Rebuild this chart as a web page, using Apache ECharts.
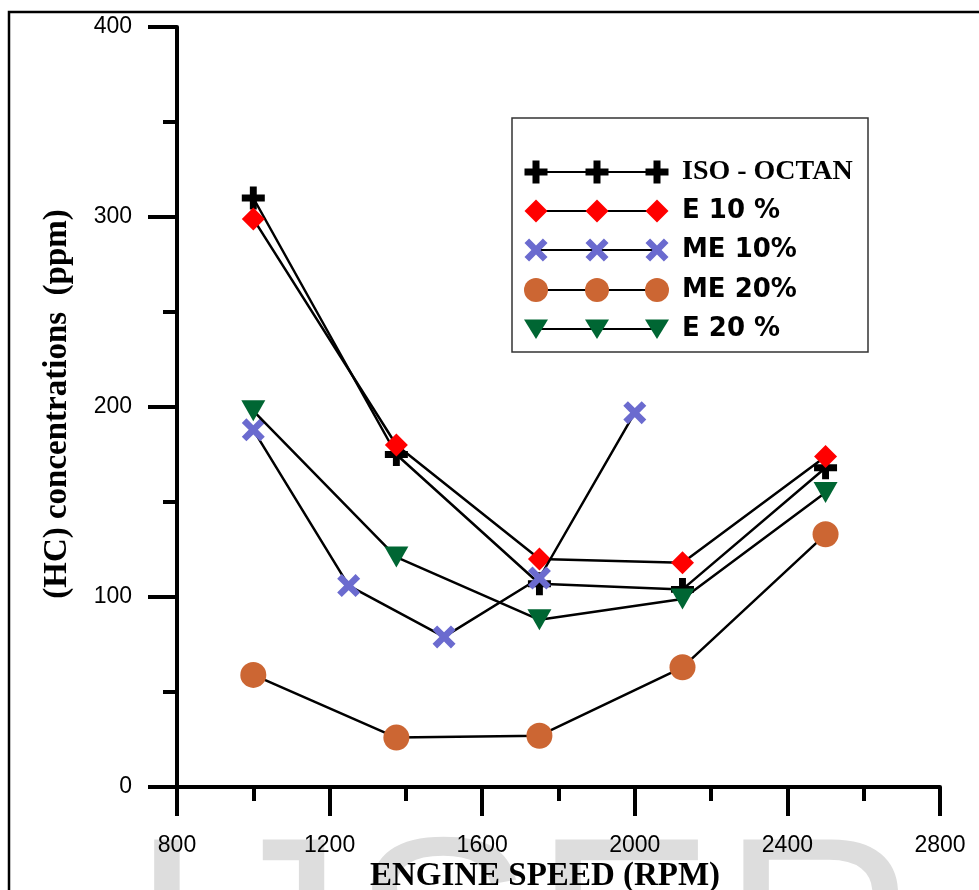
<!DOCTYPE html>
<html>
<head>
<meta charset="utf-8">
<script src="https://cdn.jsdelivr.net/npm/echarts@6/dist/echarts.min.js"></script>
<style>
html,body{margin:0;padding:0;background:#fff;}
#chart{width:979px;height:890px;}
</style>
</head>
<body>
<div id="chart"></div>
<script>
// ---- data ----
const seriesNames = ['ISO - OCTAN', 'E 10 %', 'ME 10%', 'ME 20%', 'E 20 %'];
const speeds = [1000, 1375, 1750, 2125, 2500];
const speedsME10 = [1000, 1250, 1500, 1750, 2000];
const isoOctan = [310, 175, 107, 104, 168];
const e10 = [299, 180, 120, 118, 174];
const me10 = [188, 106, 79, 110, 197];
const me20 = [59, 26, 27, 63, 133];
const e20 = [198, 121, 88, 99, 155];
const xTicks = [800, 1200, 1600, 2000, 2400, 2800];
const yTicks = [0, 100, 200, 300, 400];
const xTitle = 'ENGINE SPEED (RPM)';
const yTitle = '(HC) concentrations  (ppm)';
const watermark = ['I', 'J', 'S', 'E', 'R'];

// ---- styles ----
const colors = ['#000000', '#ff0000', '#6b6bcf', '#cc6633', '#006633'];
const PLUS = 'path://M3.5,0H6.5V3.5H10V6.5H6.5V10H3.5V6.5H0V3.5H3.5Z';
const CROSS = 'path://M0,2L2,0L5,3L8,0L10,2L7,5L10,8L8,10L5,7L2,10L0,8L3,5Z';
const symbols = [PLUS, 'diamond', CROSS, 'circle', 'triangle'];
const symSizes = [23, 23, 23, 26, [24, 21]];
const symRot = [0, 0, 0, 0, 180];

function pairs(xs, ys) { return xs.map((x, i) => [x, ys[i]]); }
const seriesData = [
  pairs(speeds, isoOctan),
  pairs(speeds, e10),
  pairs(speedsME10, me10),
  pairs(speeds, me20),
  pairs(speeds, e20)
];

const series = seriesNames.map((n, i) => ({
  name: n,
  type: 'line',
  data: seriesData[i],
  symbol: symbols[i],
  symbolSize: symSizes[i],
  symbolRotate: symRot[i],
  showAllSymbol: true,
  lineStyle: { color: '#000', width: 2.5 },
  itemStyle: { color: colors[i], opacity: 1 },
  emphasis: { disabled: true },
  z: 3 + i
}));

// ---- legend drawn as graphics ----
function plusPts(cx, cy, s, t) {
  const h = s / 2, a = t / 2;
  return [[cx-a,cy-h],[cx+a,cy-h],[cx+a,cy-a],[cx+h,cy-a],[cx+h,cy+a],[cx+a,cy+a],[cx+a,cy+h],[cx-a,cy+h],[cx-a,cy+a],[cx-h,cy+a],[cx-h,cy-a],[cx-a,cy-a]];
}
function crossPts(cx, cy, s, t) {
  const d = s / Math.SQRT2 - t / 2;
  const base = plusPts(0, 0, 2 * d, t);
  const c = Math.SQRT1_2;
  return base.map(p => [cx + (p[0] * c - p[1] * c), cy + (p[0] * c + p[1] * c)]);
}
function markerEl(i, cx, cy) {
  const col = colors[i];
  if (i === 0) return { type: 'polygon', shape: { points: plusPts(cx, cy, 23, 7) }, style: { fill: col }, z: 102 };
  if (i === 1) return { type: 'polygon', shape: { points: [[cx, cy-11.5],[cx+11.5, cy],[cx, cy+11.5],[cx-11.5, cy]] }, style: { fill: col }, z: 102 };
  if (i === 2) return { type: 'polygon', shape: { points: crossPts(cx, cy, 23, 6.5) }, style: { fill: col }, z: 102 };
  if (i === 3) return { type: 'circle', shape: { cx: cx, cy: cy, r: 12 }, style: { fill: col }, z: 102 };
  return { type: 'polygon', shape: { points: [[cx-12, cy-9.5],[cx+12, cy-9.5],[cx, cy+10]] }, style: { fill: col }, z: 102 };
}
const legendRows = [172, 211, 250, 290, 329];
const legendMarkX = [536, 597, 657];
const graphics = [];

// watermark
const wmX = [129, 208, 351, 533, 721];
watermark.forEach((ch, k) => {
  graphics.push({
    type: 'text', x: wmX[k], y: 952, z: -10, silent: true,
    style: { text: ch, font: '273px "Liberation Sans"', fill: '#dddddd',
             align: 'left', textAlign: 'left', verticalAlign: 'middle', textVerticalAlign: 'middle' }
  });
});

// outer frame
graphics.push({ type: 'rect', shape: { x: 9, y: 12, width: 1100, height: 1100 },
  style: { fill: 'none', stroke: '#000', lineWidth: 2.5 }, z: 1, silent: true });

// legend box
graphics.push({ type: 'rect', shape: { x: 512, y: 118, width: 356, height: 234 },
  style: { fill: '#fff', stroke: '#333', lineWidth: 1.5 }, z: 100, silent: true });
seriesNames.forEach((n, i) => {
  const cy = legendRows[i];
  graphics.push({ type: 'line', shape: { x1: legendMarkX[0], y1: cy, x2: legendMarkX[2], y2: cy },
    style: { stroke: '#000', lineWidth: 2 }, z: 101, silent: true });
  legendMarkX.forEach(mx => graphics.push(markerEl(i, mx, cy)));
  graphics.push({ type: 'text', x: 682, y: cy, z: 102, silent: true,
    style: { text: n,
      font: i === 0 ? 'bold 28px "Liberation Serif"' : 'bold 26px "DejaVu Sans"',
      fill: '#000', align: 'left', textAlign: 'left', verticalAlign: 'middle', textVerticalAlign: 'middle' } });
});

// axis titles
graphics.push({ type: 'text', x: 545, y: 876, z: 50, silent: true,
  style: { text: xTitle, font: 'bold 33px "Liberation Serif"', fill: '#000',
    align: 'center', textAlign: 'center', verticalAlign: 'middle', textVerticalAlign: 'middle' } });
graphics.push({ type: 'text', x: 57, y: 404, rotation: Math.PI / 2, z: 50, silent: true,
  style: { text: yTitle, font: 'bold 33px "Liberation Serif"', fill: '#000',
    align: 'center', textAlign: 'center', verticalAlign: 'middle', textVerticalAlign: 'middle' } });

const axisCommon = {
  axisLine: { show: true, onZero: false, lineStyle: { color: '#000', width: 4 } },
  axisTick: { show: true, inside: false, length: 29, lineStyle: { color: '#000', width: 4 } },
  minorTick: { show: true, splitNumber: 2, length: 14, lineStyle: { color: '#000', width: 4 } },
  splitLine: { show: false },
  minorSplitLine: { show: false }
};

const option = {
  animation: false,
  backgroundColor: '#fff',
  grid: { left: 177, right: 39, top: 27, bottom: 103, containLabel: false, outerBoundsMode: 'none' },
  xAxis: Object.assign({
    type: 'value', min: xTicks[0], max: xTicks[xTicks.length - 1], interval: 400,
    axisLabel: { margin: 47, color: '#000', fontSize: 23, fontFamily: '"Liberation Sans"',
      showMinLabel: true, showMaxLabel: true, formatter: v => String(v) }
  }, axisCommon),
  yAxis: Object.assign({
    type: 'value', min: yTicks[0], max: yTicks[yTicks.length - 1], interval: 100,
    axisLabel: { margin: 45, color: '#000', fontSize: 23, fontFamily: '"Liberation Sans"',
      showMinLabel: true, showMaxLabel: true, formatter: v => String(v) }
  }, axisCommon),
  series: series,
  graphic: { elements: graphics }
};

const chart = echarts.init(document.getElementById('chart'), null, { renderer: 'canvas' });
chart.setOption(option);
</script>
</body>
</html>
